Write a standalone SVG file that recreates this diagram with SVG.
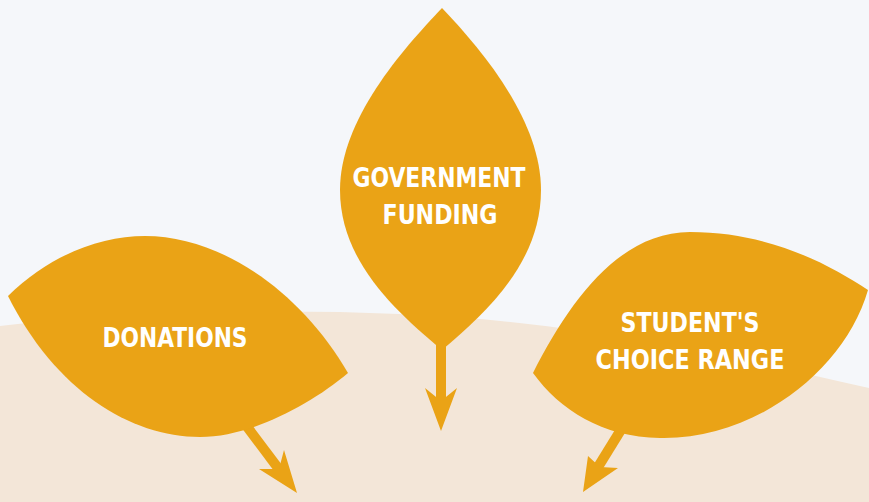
<svg xmlns="http://www.w3.org/2000/svg" width="869" height="502" viewBox="0 0 869 502">
<style>
.leaf{fill:#eaa316}
.lbl{fill:#ffffff;font-family:"DejaVu Sans Condensed","Liberation Sans",sans-serif;font-weight:bold;font-size:27px;text-anchor:middle}
.stem{stroke:#eaa316;stroke-width:10;fill:none}
.head{fill:#eaa316}
</style>
<rect x="0" y="0" width="869" height="502" fill="#f5f7fa"/>
<path d="M0,326 C150,308 400,305 560,328 C680,345 780,368 869,388 L869,502 L0,502 Z" fill="#f3e6d8"/>
<g id="connectors">
  <line class="stem" x1="441" y1="340" x2="441" y2="402"/>
  <polygon class="head" points="441,431 457,388 441,401 425,388"/>
  <line class="stem" x1="242" y1="420" x2="281" y2="472"/>
  <polygon class="head" points="297,493 284,450 279,469 259,469"/>
  <line class="stem" x1="627" y1="420" x2="598" y2="467"/>
  <polygon class="head" points="583,492 588,456 600,467 618,468"/>
</g>
<g id="government-funding">
  <path class="leaf" d="M442,8 C482,50 541,120 541,190 C541,260 490,310 442,350 C394,310 340,260 340,190 C340,120 402,50 442,8 Z"/>
  <text class="lbl" x="439" y="187" textLength="173" lengthAdjust="spacingAndGlyphs">GOVERNMENT</text>
  <text class="lbl" x="440" y="224" textLength="115" lengthAdjust="spacingAndGlyphs">FUNDING</text>
</g>
<g id="donations">
  <path class="leaf" d="M8,296 C50,255 100,236 145,236 C220,236 300,290 348,373 C310,405 250,437 200,437 C130,437 55,390 8,296 Z"/>
  <text class="lbl" x="175" y="347" textLength="145" lengthAdjust="spacingAndGlyphs">DONATIONS</text>
</g>
<g id="students-choice-range">
  <path class="leaf" d="M533,373 C570,300 620,232 690,232 C770,232 830,265 868,290 C845,370 755,440 660,438 C602,437 560,410 533,373 Z"/>
  <text class="lbl" x="690" y="332" textLength="139" lengthAdjust="spacingAndGlyphs">STUDENT'S</text>
  <text class="lbl" x="690" y="369" textLength="189" lengthAdjust="spacingAndGlyphs">CHOICE RANGE</text>
</g>
</svg>
